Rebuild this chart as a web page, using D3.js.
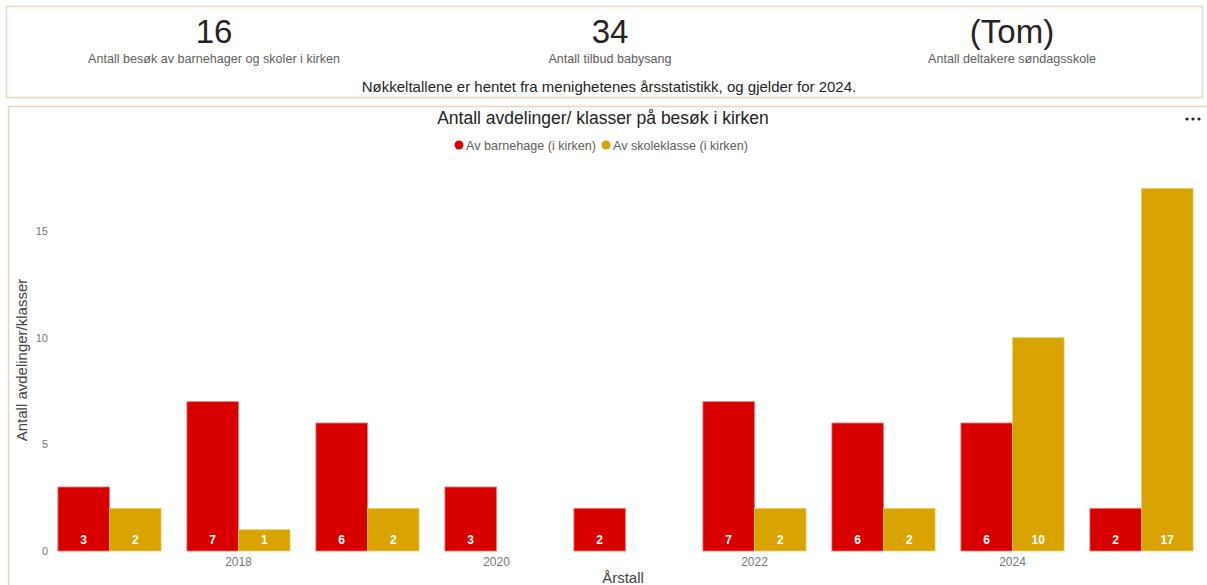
<!DOCTYPE html>
<html><head><meta charset="utf-8">
<script src="https://cdn.jsdelivr.net/npm/d3@7"></script>
<style>
html,body{margin:0;padding:0;background:#fff;overflow:hidden;}
svg{display:block;font-family:"Liberation Sans",Arial,sans-serif;}
</style></head>
<body>
<svg id="c" width="1207" height="585"></svg>
<script>
const years = ["2017","2018","2019","2020","2021","2022","2023","2024","2025"];
const barnehage = [3,7,6,3,2,7,6,6,2];
const skoleklasse = [2,1,2,null,null,2,2,10,17];
const seriesNames = ["Av barnehage (i kirken)","Av skoleklasse (i kirken)"];
const seriesColors = ["#d90000","#d9a402"];
const yTicks = [0,5,10,15];
const xTickLabels = ["2018","2020","2022","2024"];
const kpiValues = ["16","34","(Tom)"];
const kpiLabels = ["Antall besøk av barnehager og skoler i kirken","Antall tilbud babysang","Antall deltakere søndagsskole"];

const svg = d3.select("#c");

// KPI card
svg.append("rect").attr("x",6.5).attr("y",6.5).attr("width",1196).attr("height",91)
  .attr("fill","#fff").attr("stroke","#e2d6bf").attr("stroke-width",1.5);
const kpiX = [214,610,1012];
kpiValues.forEach((v,i)=>{
  svg.append("text").attr("x",kpiX[i]).attr("y",43).attr("text-anchor","middle")
    .attr("font-size",33).attr("fill","#252423").text(v);
  svg.append("text").attr("x",kpiX[i]).attr("y",63).attr("text-anchor","middle")
    .attr("font-size",12.6).attr("fill","#605e5c").text(kpiLabels[i]);
});
svg.append("text").attr("x",609).attr("y",92).attr("text-anchor","middle")
  .attr("font-size",15).attr("fill","#252423")
  .text("Nøkkeltallene er hentet fra menighetenes årsstatistikk, og gjelder for 2024.");

// Chart card
svg.append("rect").attr("x",8.5).attr("y",106.5).attr("width",1210).attr("height",500)
  .attr("fill","#fff").attr("stroke","#e2d6bf").attr("stroke-width",1.5);

svg.append("text").attr("x",603).attr("y",124).attr("text-anchor","middle")
  .attr("font-size",17.5).attr("fill","#252423").text("Antall avdelinger/ klasser på besøk i kirken");

// more dots
[1187,1193,1199].forEach(x=>svg.append("circle").attr("cx",x).attr("cy",119).attr("r",1.6).attr("fill","#252423"));

// legend
const legend = svg.append("g");
const lx = [459,606];
seriesNames.forEach((n,i)=>{
  legend.append("circle").attr("cx",lx[i]).attr("cy",145).attr("r",4.5).attr("fill",seriesColors[i]);
  legend.append("text").attr("x",lx[i]+7).attr("y",149.5).attr("font-size",12.6).attr("fill","#605e5c").text(n);
});

// scales
const x0 = d3.scaleBand().domain(years).range([45,1206]).paddingInner(0.2).paddingOuter(0.1);
const x1 = d3.scaleBand().domain([0,1]).range([0,x0.bandwidth()]);
const y = d3.scaleLinear().domain([0,17]).range([551,188.3]);

const data = years.map((yr,i)=>({year:yr, vals:[barnehage[i],skoleklasse[i]]}));

const groups = svg.append("g").selectAll("g").data(data).join("g")
  .attr("transform",d=>`translate(${x0(d.year)},0)`);

groups.selectAll("rect").data(d=>d.vals.map((v,k)=>({v,k})).filter(e=>e.v!=null)).join("rect")
  .attr("x",e=>x1(e.k)).attr("width",x1.bandwidth())
  .attr("y",e=>y(e.v)).attr("height",e=>y(0)-y(e.v))
  .attr("fill",e=>seriesColors[e.k])
  .attr("stroke",e=>e.k===0?"#ee7b7b":"#ecd07a").attr("stroke-width",0.8);

groups.selectAll("text").data(d=>d.vals.map((v,k)=>({v,k})).filter(e=>e.v!=null)).join("text")
  .attr("x",e=>x1(e.k)+x1.bandwidth()/2).attr("y",543.5)
  .attr("text-anchor","middle").attr("font-size",12).attr("font-weight","bold")
  .attr("fill","#fff").text(e=>e.v);

// y axis
const yAxis = d3.axisLeft(y).tickValues(yTicks).tickSize(0).tickPadding(0);
const yg = svg.append("g").attr("transform","translate(48,0)").call(yAxis);
yg.select(".domain").remove();
yg.selectAll("text").attr("font-size",11).attr("fill","#777").attr("font-family","Liberation Sans,Arial,sans-serif");

// x axis
const xAxis = d3.axisBottom(x0).tickValues(xTickLabels).tickSize(0).tickPadding(0);
const xg = svg.append("g").attr("transform","translate(0,557)").call(xAxis);
xg.select(".domain").remove();
xg.selectAll("text").attr("font-size",12).attr("fill","#777").attr("dy","0.71em").attr("font-family","Liberation Sans,Arial,sans-serif");

// axis titles
svg.append("text").attr("x",623).attr("y",583).attr("text-anchor","middle")
  .attr("font-size",15).attr("fill","#444").text("Årstall");
svg.append("text").attr("transform","translate(27,360) rotate(-90)").attr("text-anchor","middle")
  .attr("font-size",15).attr("fill","#444").text("Antall avdelinger/klasser");
</script>
</body></html>
